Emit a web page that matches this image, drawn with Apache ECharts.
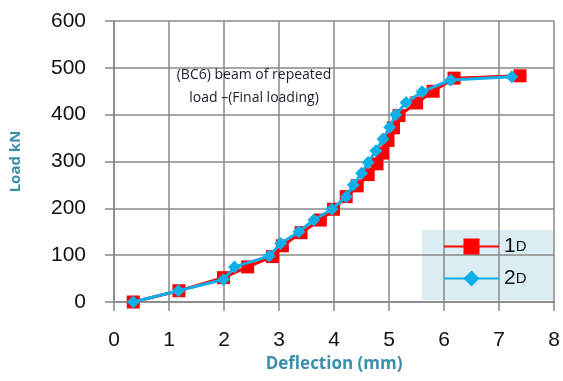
<!DOCTYPE html>
<html>
<head>
<meta charset="utf-8">
<script src="https://cdn.jsdelivr.net/npm/echarts@6/dist/echarts.min.js"></script>
<style>html,body{margin:0;padding:0;background:#fff}#c{width:563px;height:381px}</style>
</head>
<body>
<div id="c"></div>
<script>
const xTicks = [0, 1, 2, 3, 4, 5, 6, 7, 8];
const yTicks = [0, 100, 200, 300, 400, 500, 600];
const series1Name = '1D';
const series2Name = '2D';
const s1x = [0.35, 1.18, 1.99, 2.43, 2.88, 3.06, 3.40, 3.75, 3.99, 4.22, 4.42, 4.62, 4.78, 4.88, 4.98, 5.08, 5.18, 5.50, 5.80, 6.18, 7.38];
const s1y = [0, 24, 52, 75, 97, 120, 148, 175, 198, 225, 248, 272, 295, 318, 345, 372, 398, 425, 450, 478, 483];
const s2x = [0.35, 1.17, 1.99, 2.19, 2.82, 3.03, 3.36, 3.63, 3.96, 4.22, 4.35, 4.50, 4.62, 4.76, 4.89, 5.01, 5.12, 5.31, 5.60, 6.12, 7.23];
const s2y = [0, 24, 48, 75, 98, 125, 150, 175, 198, 225, 250, 275, 298, 323, 348, 373, 400, 426, 449, 474, 481];
const noteLines = ['(BC6) beam of repeated', 'load \u2013(Final loading)'];
const xTitle = 'Deflection (mm)';
const yTitle = 'Load kN';

const pair = (xs, ys) => xs.map((v, i) => [v, ys[i]]);
const chart = echarts.init(document.getElementById('c'), null, {renderer: 'canvas'});
const gridColor = '#888888';
const labelStyle = {color: '#111111', fontSize: 21, fontFamily: 'Liberation Sans'};
chart.setOption({
  animation: false,
  grid: {left: 112, top: 21, right: 7, bottom: 79, containLabel: false},
  xAxis: {
    type: 'value', min: xTicks[0], max: xTicks[xTicks.length - 1], interval: 1,
    axisLine: {show: true, lineStyle: {color: gridColor, width: 1.5}},
    axisTick: {show: true, length: 9, lineStyle: {color: gridColor, width: 1.5}},
    splitLine: {show: true, lineStyle: {color: gridColor, width: 1.5}},
    axisLabel: Object.assign({margin: 28}, labelStyle),
    name: xTitle, nameLocation: 'middle', nameGap: 51,
    nameTextStyle: {color: '#3a8fa8', fontSize: 17, fontWeight: 'bold', fontFamily: 'Open Sans'}
  },
  yAxis: {
    type: 'value', min: yTicks[0], max: yTicks[yTicks.length - 1], interval: 100,
    axisLine: {show: true, lineStyle: {color: gridColor, width: 1.5}},
    axisTick: {show: true, length: 9, lineStyle: {color: gridColor, width: 1.5}},
    splitLine: {show: true, lineStyle: {color: gridColor, width: 1.5}},
    axisLabel: Object.assign({margin: 28}, labelStyle),
    name: yTitle, nameLocation: 'middle', nameGap: 91, nameRotate: 90,
    nameTextStyle: {color: '#3a8fa8', fontSize: 15, fontWeight: 'bold', fontFamily: 'Open Sans'}
  },
  legend: {
    orient: 'vertical', left: 443, top: 236, itemWidth: 55, itemHeight: 20, itemGap: 11,
    padding: 0,
    data: [series1Name, series2Name],
    formatter: n => '{a|' + n.charAt(0) + '}{b|' + n.charAt(1) + '}',
    textStyle: {
      rich: {
        a: {fontSize: 21, color: '#111111', fontFamily: 'Liberation Sans', lineHeight: 22},
        b: {fontSize: 15, color: '#111111', fontFamily: 'Liberation Sans', lineHeight: 22}
      }
    }
  },
  graphic: [
    {type: 'rect', z: 0, silent: true, shape: {x: 422, y: 230, width: 131, height: 70}, style: {fill: '#daedf3'}},
    {type: 'rect', z: 0, silent: true, shape: {x: 143, y: 52, width: 224, height: 75}, style: {fill: '#ffffff'}},
    {type: 'text', z: 1, silent: true, x: 254, y: 75, style: {text: noteLines[0], fill: '#1c1c2c', fontSize: 14, fontFamily: 'Open Sans', align: 'center', verticalAlign: 'middle'}},
    {type: 'text', z: 1, silent: true, x: 254, y: 98, style: {text: noteLines[1], fill: '#1c1c2c', fontSize: 14, fontFamily: 'Open Sans', align: 'center', verticalAlign: 'middle'}}
  ],
  series: [
    {
      name: series1Name, type: 'line', data: pair(s1x, s1y), z: 3,
      symbol: 'rect', symbolSize: 13,
      lineStyle: {color: '#ff0000', width: 3},
      itemStyle: {color: '#ff0000'}
    },
    {
      name: series2Name, type: 'line', data: pair(s2x, s2y), z: 4,
      symbol: 'diamond', symbolSize: 13,
      lineStyle: {color: '#0eaee8', width: 3},
      itemStyle: {color: '#0eaee8'}
    }
  ]
});
</script>
</body>
</html>
